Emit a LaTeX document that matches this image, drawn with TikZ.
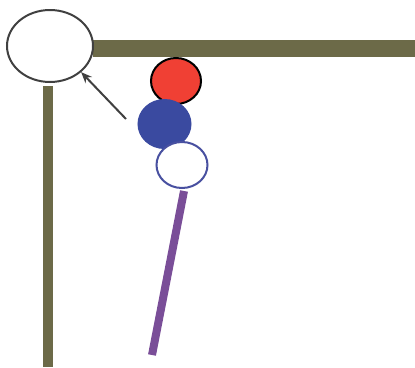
\documentclass[tikz,border=0pt]{standalone}
\usetikzlibrary{shapes.geometric,arrows.meta}
\definecolor{olivebar}{RGB}{108,106,72}
\definecolor{ballred}{RGB}{240,64,52}
\definecolor{ballblue}{RGB}{58,74,160}
\definecolor{stickpurple}{RGB}{122,78,152}
\definecolor{rimblue}{RGB}{72,80,160}
\tikzset{
  ball/.style={ellipse, inner sep=0pt, line width=2pt}
}
\begin{document}
\begin{tikzpicture}[x=1pt,y=-1pt]
\useasboundingbox (0,0) rectangle (415,367);
% bars
\fill[olivebar] (93,40) rectangle (415,57);
\fill[olivebar] (43,86) rectangle (53,367);
% big ellipse
\node[ball, draw=black!75, fill=white, minimum width=86pt, minimum height=72pt] (big) at (50,46) {};
% balls
\node[ball, draw=black, fill=ballred, minimum width=50pt, minimum height=46pt] (red) at (176,81) {};
\node[ball, draw=ballblue, fill=ballblue, minimum width=52pt, minimum height=48pt] (blue) at (164.5,124) {};
\node[ball, draw=rimblue, fill=white, minimum width=51pt, minimum height=46pt] (white) at (182,165) {};
% stick
\coordinate (stickend) at (152,355);
\draw[stickpurple, line width=8pt] (white.south) ++(2,2) -- (stickend);
% arrow
\coordinate (arrstart) at (126,119);
\draw[black!75, line width=2pt, -{Stealth[length=11pt,width=9pt]}] (arrstart) -- (big.-40);
\end{tikzpicture}
\end{document}
